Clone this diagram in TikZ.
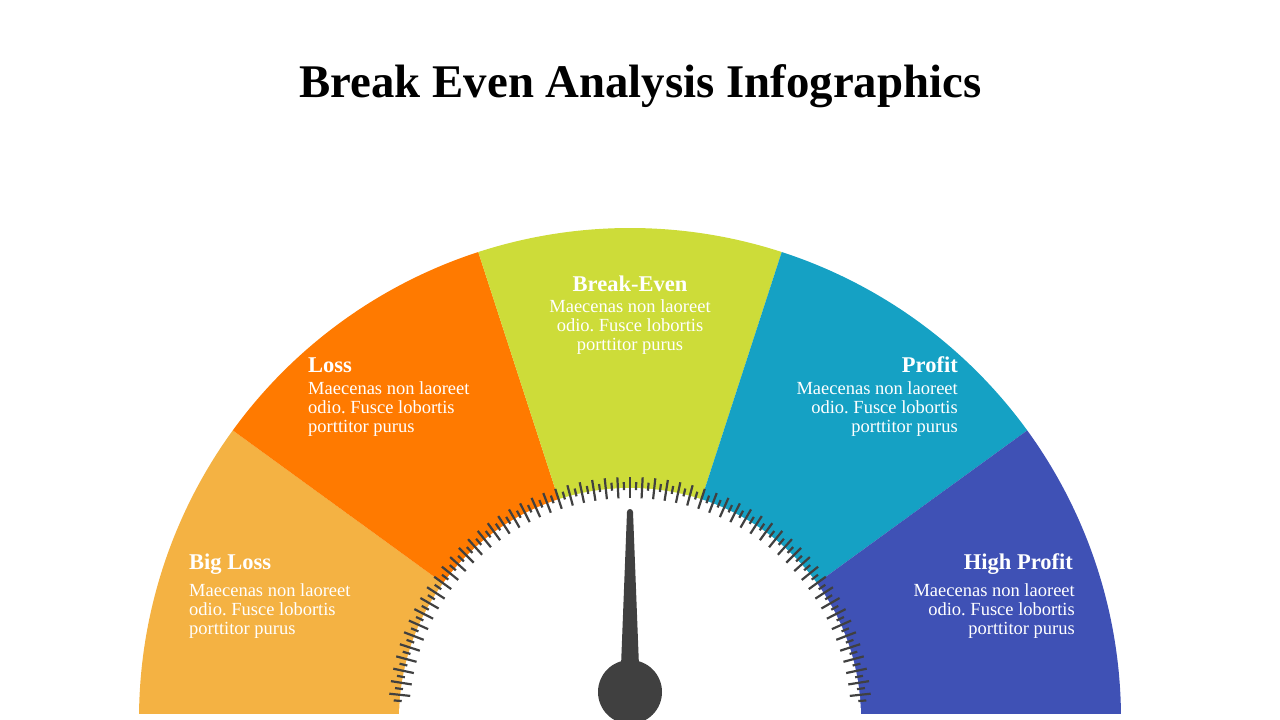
\documentclass[tikz,border=0pt]{standalone}
\usepackage{fontspec}
\setmainfont{Liberation Serif}
\frenchspacing
\definecolor{biglossc}{HTML}{F4B243}
\definecolor{lossc}{HTML}{FF7A00}
\definecolor{evenc}{HTML}{CDDC39}
\definecolor{profitc}{HTML}{15A1C4}
\definecolor{highc}{HTML}{3F51B5}
\definecolor{dialc}{HTML}{404040}
\tikzset{
  hdr/.style={font=\bfseries\fontsize{22.5}{27}\selectfont, text=white, inner sep=0pt},
  txt/.style={font=\fontsize{18.5}{19}\selectfont, text=white, inner sep=0pt},
  gaugetick/.style={draw=dialc, line width=2.2pt}
}
\begin{document}
\begin{tikzpicture}[x=1pt,y=1pt]
                \useasboundingbox (0,0) rectangle (1280,-720);
                \clip (0,0) rectangle (1280,-720);
                \coordinate (c) at (630,-719);
                \coordinate (k) at (630,-692);
                \node[font=\bfseries\fontsize{46.8}{56}\selectfont, anchor=base] (title) at (640.5,-97) {Break Even Analysis Infographics};
                \begin{scope}
                    \clip (0,0) rectangle (1280,-713);
                    \fill[biglossc] (c) -- ++(180:491) arc[start angle=180, end angle=144, radius=491] -- cycle;
                    \fill[lossc] (c) -- ++(144:491) arc[start angle=144, end angle=108, radius=491] -- cycle;
                    \fill[evenc] (c) -- ++(108:491) arc[start angle=108, end angle=72, radius=491] -- cycle;
                    \fill[profitc] (c) -- ++(72:491) arc[start angle=72, end angle=36, radius=491] -- cycle;
                    \fill[highc] (c) -- ++(36:491) arc[start angle=36, end angle=0, radius=491] -- cycle;
                    \fill[white] (c) circle[radius=231];
                    \foreach \i in {3,...,117}{
                        \pgfmathsetmacro\a{1.5*\i}
                        \ifodd\i
                            \draw[gaugetick] (c) ++(\a:229) -- ++(\a:8);
                        \else
                            \draw[gaugetick] (c) ++(\a:221) -- ++(\a:21);
                        \fi
                    }
                \end{scope}
                \fill[dialc] (620,-692) -- (627,-512) arc[start angle=180, end angle=0, radius=3] -- (640,-692) -- cycle;
                \fill[dialc] (k) circle[radius=32];
                \node[hdr, anchor=base west] (bigloss) at (189,-569) {Big Loss};
                \node[txt, anchor=north west, align=left] (bigloss-txt) at (189,-583) {Maecenas non laoreet\\odio. Fusce lobortis\\porttitor purus};
                \node[hdr, anchor=base west] (loss) at (308,-372) {Loss};
                \node[txt, anchor=north west, align=left] (loss-txt) at (308,-381) {Maecenas non laoreet\\odio. Fusce lobortis\\porttitor purus};
                \node[hdr, anchor=base] (even) at (630,-291) {Break-Even};
                \node[txt, anchor=north, align=center] (even-txt) at (630,-299) {Maecenas non laoreet\\odio. Fusce lobortis\\porttitor purus};
                \node[hdr, anchor=base east] (profit) at (958,-372) {Profit};
                \node[txt, anchor=north east, align=right] (profit-txt) at (958,-381) {Maecenas non laoreet\\odio. Fusce lobortis\\porttitor purus};
                \node[hdr, anchor=base east] (high) at (1073,-569) {High Profit};
                \node[txt, anchor=north east, align=right] (high-txt) at (1075,-583) {Maecenas non laoreet\\odio. Fusce lobortis\\porttitor purus};
            \end{tikzpicture}
\end{document}
